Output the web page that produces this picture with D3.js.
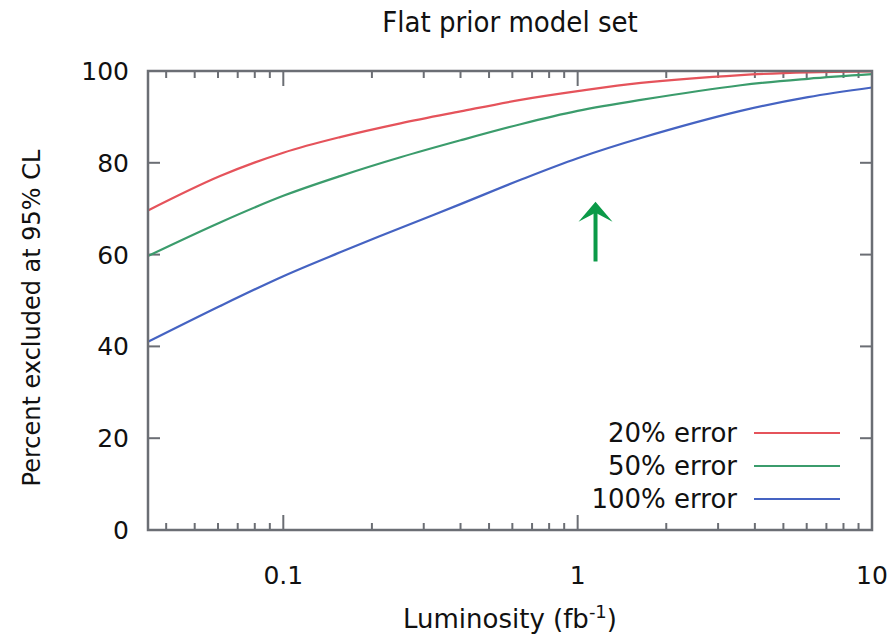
<!DOCTYPE html>
<html>
<head>
<meta charset="utf-8">
<script src="https://cdn.jsdelivr.net/npm/d3@7"></script>
<style>
  body { margin: 0; background: #fff; }
  text { font-family: "DejaVu Sans", sans-serif; fill: #111; }
</style>
</head>
<body>
<div class="layout"></div>
<script>
// luminosity values (fb^-1)
var lumi = [0.0347, 0.061, 0.1, 0.156, 0.25, 0.4, 0.64, 1, 1.64, 3.58, 6.06, 10];
var err20 = [69.6, 77.1, 82.2, 85.6, 88.6, 91.2, 93.7, 95.6, 97.4, 99.1, 99.7, 99.9];
var err50 = [59.7, 67.0, 72.8, 77.1, 81.2, 84.9, 88.4, 91.3, 93.7, 96.9, 98.3, 99.3];
var err100 = [41.0, 48.8, 55.3, 60.5, 65.8, 71.0, 76.3, 81.0, 85.4, 91.3, 94.3, 96.4];
var seriesNames = ["20% error", "50% error", "100% error"];
var yTicks = [0, 20, 40, 60, 80, 100];
var xTicks = [0.1, 1, 10];

const width = 894;
const height = 634;
const margin = {top: 71, right: 22, bottom: 104, left: 148};

var svg = d3.select("div.layout")
  .append("svg")
  .attr("width", width)
  .attr("height", height);

var x = d3.scaleLog()
  .domain([0.0347, 10])
  .range([margin.left, width - margin.right]);

var y = d3.scaleLinear()
  .domain([0, 100])
  .range([height - margin.bottom, margin.top]);

var colors = ["#e5535b", "#3b9c6c", "#4563c2"];
var allSeries = [err20, err50, err100];

// minor ticks for the log axis
var minorTicks = x.ticks().filter(function (t) { return xTicks.indexOf(t) < 0; });

var axisColor = "#6b6e74";
var g = svg.append("g");

// ticks on all four sides, pointing inwards
yTicks.forEach(function (t) {
  if (t === 0 || t === 100) return;
  g.append("line").attr("x1", x.range()[0]).attr("x2", x.range()[0] + 12)
    .attr("y1", y(t)).attr("y2", y(t)).attr("stroke", axisColor).attr("stroke-width", 2);
  g.append("line").attr("x1", x.range()[1]).attr("x2", x.range()[1] - 12)
    .attr("y1", y(t)).attr("y2", y(t)).attr("stroke", axisColor).attr("stroke-width", 2);
});

xTicks.concat(minorTicks).forEach(function (t) {
  var len = xTicks.indexOf(t) >= 0 ? 15 : 7;
  if (t >= 10) return;
  g.append("line").attr("x1", x(t)).attr("x2", x(t))
    .attr("y1", y(0)).attr("y2", y(0) - len).attr("stroke", axisColor).attr("stroke-width", 2);
  g.append("line").attr("x1", x(t)).attr("x2", x(t))
    .attr("y1", y(100)).attr("y2", y(100) + len).attr("stroke", axisColor).attr("stroke-width", 2);
});

// curves
var line = d3.line()
  .x(function (d) { return x(d[0]); })
  .y(function (d) { return y(d[1]); })
  .curve(d3.curveCatmullRom.alpha(0.5));

allSeries.forEach(function (s, i) {
  svg.append("path")
    .datum(lumi.map(function (l, j) { return [l, s[j]]; }))
    .attr("fill", "none")
    .attr("stroke", colors[i])
    .attr("stroke-width", 2.2)
    .attr("d", line);
});

// frame
svg.append("rect")
  .attr("x", x.range()[0]).attr("y", y(100))
  .attr("width", x.range()[1] - x.range()[0])
  .attr("height", y(0) - y(100))
  .attr("fill", "none").attr("stroke", axisColor).attr("stroke-width", 2.5);

// tick labels
yTicks.forEach(function (t) {
  svg.append("text")
    .attr("x", 129).attr("y", y(t) + 9)
    .attr("text-anchor", "end")
    .style("font-size", "25px")
    .text(t);
});

xTicks.forEach(function (t) {
  svg.append("text")
    .attr("x", x(t)).attr("y", 584)
    .attr("text-anchor", "middle")
    .style("font-size", "25px")
    .text(t);
});

// title and axis labels
svg.append("text")
  .attr("x", 510).attr("y", 32)
  .attr("text-anchor", "middle")
  .style("font-family", "'DejaVu Sans Condensed', 'DejaVu Sans', sans-serif")
  .style("font-size", "29px")
  .text("Flat prior model set");

svg.append("text")
  .attr("transform", "translate(40,318) rotate(-90)")
  .attr("text-anchor", "middle")
  .style("font-size", "24px")
  .text("Percent excluded at 95% CL");

var xl = svg.append("text")
  .attr("x", 510).attr("y", 628)
  .attr("text-anchor", "middle")
  .style("font-size", "26px");
xl.append("tspan").text("Luminosity (fb");
xl.append("tspan").attr("dy", -10).style("font-size", "18px").text("-1");
xl.append("tspan").attr("dy", 10).text(")");

// legend
seriesNames.forEach(function (name, i) {
  var ly = 433 + i * 33;
  svg.append("text")
    .attr("x", 737).attr("y", ly + 9)
    .attr("text-anchor", "end")
    .style("font-size", "26px")
    .text(name);
  svg.append("line")
    .attr("x1", 754).attr("x2", 840)
    .attr("y1", ly).attr("y2", ly)
    .attr("stroke", colors[i]).attr("stroke-width", 2);
});

// green arrow
var ax = x(1.15);
var ay1 = y(58.5), ay0 = y(71.5);
svg.append("line")
  .attr("x1", ax).attr("x2", ax).attr("y1", ay1).attr("y2", ay0 + 6)
  .attr("stroke", "#0b9a48").attr("stroke-width", 4);
svg.append("path")
  .attr("d", "M" + ax + "," + ay0 + " L" + (ax + 17) + "," + (ay0 + 20) +
    " L" + ax + "," + (ay0 + 11) + " L" + (ax - 17) + "," + (ay0 + 20) + " Z")
  .attr("fill", "#0b9a48");
</script>
</body>
</html>
